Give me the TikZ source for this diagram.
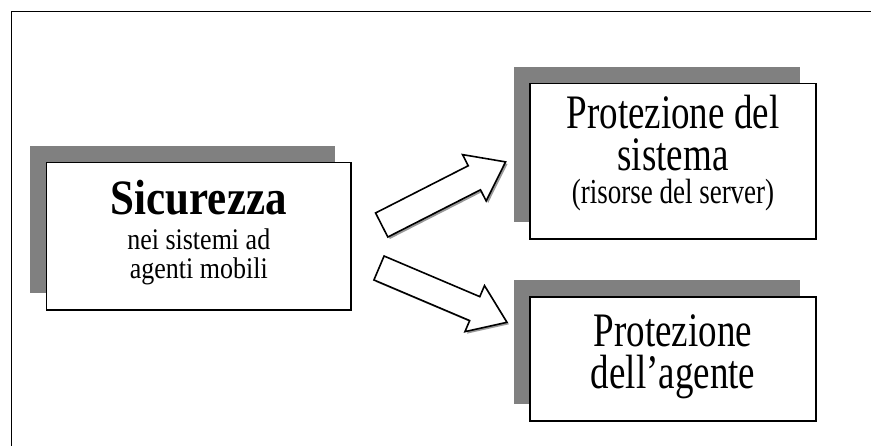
\documentclass[tikz,border=0pt]{standalone}
\usepackage{graphicx}
\usepackage{fontspec}
\setmainfont{Liberation Serif}
\usetikzlibrary{shadows}
\definecolor{shgray}{RGB}{128,128,128}
\newcommand{\tallA}[1]{\scalebox{1}[1.15]{#1}}
\newcommand{\tallB}[1]{\scalebox{1}[1.3]{#1}}
\begin{document}
\begin{tikzpicture}[x=1pt,y=-1pt,
  panel/.style={draw=black, line width=1.5pt, fill=white, inner sep=0pt,
    drop shadow={shadow xshift=-16.5pt, shadow yshift=16.5pt, fill=shgray, opacity=1}},
  txt/.style={anchor=base, inner sep=0pt},
  blockarrow/.style={draw=black, line width=1.6pt, fill=white, line join=miter,
    drop shadow={shadow xshift=2pt, shadow yshift=-2pt, fill=shgray, opacity=0.8}}]
\useasboundingbox (0,0) rectangle (871,446);
% frame
\draw[line width=1.2pt] (11.5,446) -- (11.5,11.5) -- (871,11.5);
% boxes
\node[panel, minimum width=304.5pt, minimum height=147.5pt] (sic) at (198.75,236.25) {};
\node[panel, minimum width=286pt, minimum height=155.5pt] (sys) at (673,161.25) {};
\node[panel, minimum width=286pt, minimum height=124pt] (age) at (673,359) {};
% texts
\node[txt, font=\fontsize{43}{48}\selectfont\bfseries] (t1) at (198.75,215) {\tallA{Sicurezza}};
\node[txt, font=\fontsize{26}{30}\selectfont] (t2) at (198.75,250) {\tallA{nei sistemi ad}};
\node[txt, font=\fontsize{26}{30}\selectfont] (t3) at (198.75,279) {\tallA{agenti mobili}};
\node[txt, font=\fontsize{37}{42}\selectfont] (t4) at (673,129) {\tallB{Protezione del}};
\node[txt, font=\fontsize{37}{42}\selectfont] (t5) at (673,171) {\tallB{sistema}};
\node[txt, font=\fontsize{27}{31}\selectfont] (t6) at (673,204) {\tallB{(risorse del server)}};
\node[txt, font=\fontsize{37}{42}\selectfont] (t7) at (673,347) {\tallB{Protezione}};
\node[txt, font=\fontsize{37}{42}\selectfont] (t8) at (673,389) {\tallB{dell’agente}};
% block arrows
\coordinate (a1) at (381.7,225);
\coordinate (a2) at (379,268);
\begin{scope}[shift={(a1)}, rotate=27]
  \draw[blockarrow] (0,-13.5) -- (104,-13.5) -- (104,-26) -- (139,0) -- (104,26) -- (104,13.5) -- (0,13.5) -- cycle;
\end{scope}
\begin{scope}[shift={(a2)}, rotate=-23]
  \draw[blockarrow] (0,-13) -- (104,-13) -- (104,-25) -- (139,0) -- (104,25) -- (104,13) -- (0,13) -- cycle;
\end{scope}
\end{tikzpicture}
\end{document}
